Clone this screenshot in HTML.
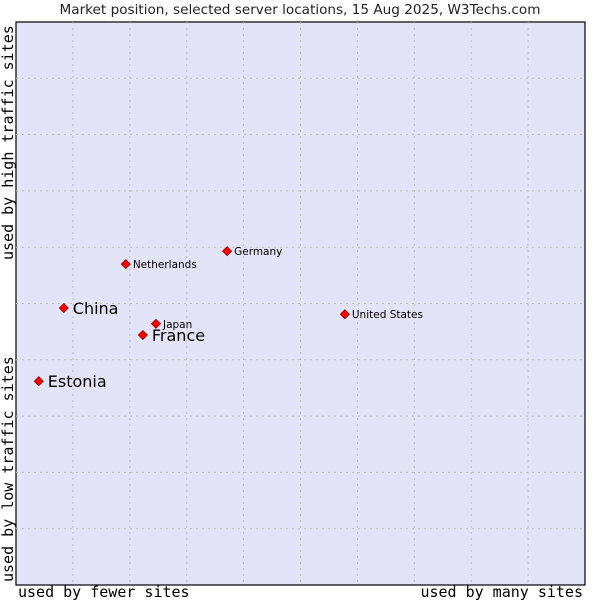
<!DOCTYPE html>
<html><head><meta charset="utf-8"><style>
body{margin:0;background:#fff;width:600px;height:600px;overflow:hidden}
svg{display:block}
</style></head><body>
<svg width="600" height="600" xmlns="http://www.w3.org/2000/svg">
<text x="300" y="14" text-anchor="middle" font-family="DejaVu Sans, sans-serif" font-size="13.6" fill="#222">Market position, selected server locations, 15 Aug 2025, W3Techs.com</text>
<rect x="16" y="22" width="569" height="563" fill="#e4e4f8" stroke="#000" stroke-width="1.2"/>
<g id="grid"></g>
<g id="pts"></g>
<text transform="translate(13,582) rotate(-90)" font-family="DejaVu Sans Mono, Liberation Mono, monospace" font-size="15" fill="#000">used by low traffic sites</text>
<text transform="translate(13,260) rotate(-90)" font-family="DejaVu Sans Mono, Liberation Mono, monospace" font-size="15" fill="#000">used by high traffic sites</text>
<text x="18" y="597" font-family="DejaVu Sans Mono, Liberation Mono, monospace" font-size="15" fill="#000">used by fewer sites</text>
<text x="583" y="597" text-anchor="end" font-family="DejaVu Sans Mono, Liberation Mono, monospace" font-size="15" fill="#000">used by many sites</text>
</svg>
<script>
const names=["Estonia","China","France","Japan","Netherlands","Germany","United States"];
const xVals=[0.40,0.84,2.23,2.46,1.93,3.71,5.78];
const yVals=[3.62,4.92,4.44,4.64,5.70,5.93,4.81];
const bigLabel=[true,true,true,false,false,false,false];
const NS="http://www.w3.org/2000/svg";
const X0=16,W=569,Y0=585,H=563;
function sx(v){return X0+v/10*W}
function sy(v){return Y0-v/10*H}
const grid=document.getElementById('grid');
for(let i=1;i<10;i++){
  const v=document.createElementNS(NS,'line');
  v.setAttribute('x1',sx(i));v.setAttribute('x2',sx(i));v.setAttribute('y1',22);v.setAttribute('y2',585);
  v.setAttribute('stroke','#bbb');v.setAttribute('stroke-dasharray','2,4');
  
  
  grid.appendChild(v);
  const h=document.createElementNS(NS,'line');
  h.setAttribute('y1',sy(i));h.setAttribute('y2',sy(i));h.setAttribute('x1',16);h.setAttribute('x2',585);
  h.setAttribute('stroke','#bbb');h.setAttribute('stroke-dasharray','2,4');
  
  
  grid.appendChild(h);
}
const pts=document.getElementById('pts');
names.forEach((n,i)=>{
  const x=sx(xVals[i]),y=sy(yVals[i]);
  const p=document.createElementNS(NS,'polygon');
  p.setAttribute('points',`${x},${y-4.5} ${x+4.5},${y} ${x},${y+4.5} ${x-4.5},${y}`);
  p.setAttribute('fill','#f00');p.setAttribute('stroke','#800');p.setAttribute('stroke-width','0.8');
  
  
  pts.appendChild(p);
  const t=document.createElementNS(NS,'text');
  t.setAttribute('x',x+(bigLabel[i]?9:7));
  t.setAttribute('y',y+(bigLabel[i]?6:4));
  t.setAttribute('font-family','DejaVu Sans, sans-serif');
  t.setAttribute('font-size',bigLabel[i]?16:10.5);
  t.setAttribute('fill','#000');
  t.textContent=n;
  
  
  pts.appendChild(t);
});
</script>
</body></html>
